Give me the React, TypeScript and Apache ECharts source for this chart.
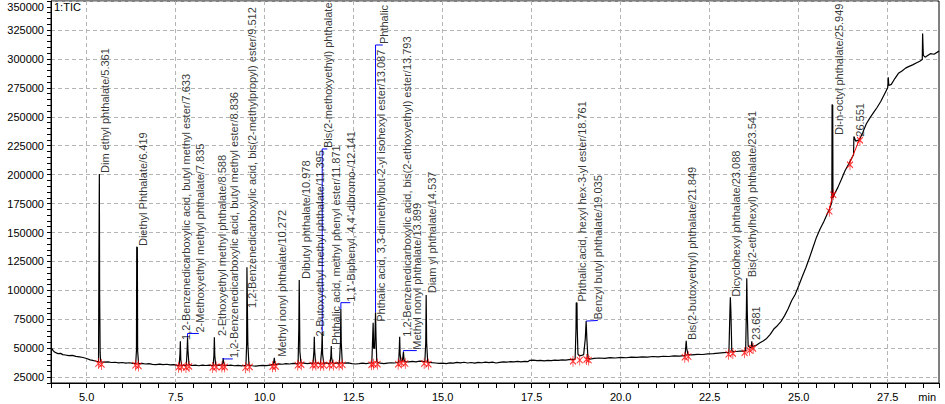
import React, { useEffect, useRef } from "react";
import * as echarts from "echarts";

// Total ion chromatogram: [retention time (min), intensity]
const trace: [number, number][] = [
  [4.0, 50500], [4.03, 49500], [4.06, 48000], [4.1, 46800], [4.15, 46000], [4.2, 45300], [4.27, 45600], [4.33, 44500],
  [4.4, 44200], [4.5, 43600], [4.6, 43900], [4.7, 43000], [4.8, 42600], [4.9, 42000], [5.0, 41200], [5.1, 40000],
  [5.2, 39300], [5.28, 38800],
  [5.335, 38500], [5.345, 121000], [5.352, 121000], [5.358, 200500], [5.366, 97000], [5.373, 97000], [5.38, 46000], [5.395, 38200],
  [5.5, 38000], [5.6, 38300], [5.7, 37700], [5.8, 37900], [5.9, 37400], [6.0, 37700], [6.1, 37200], [6.2, 37500], [6.3, 37000],
  [6.38, 37000], [6.4, 48000], [6.408, 137600], [6.425, 137000], [6.433, 48000], [6.46, 36600],
  [6.55, 36900], [6.65, 36400], [6.75, 36700], [6.85, 36100], [6.95, 35900], [7.05, 36300], [7.15, 35800], [7.25, 36200],
  [7.35, 35600], [7.45, 35900], [7.55, 35300],
  [7.6, 35500], [7.622, 45000], [7.633, 56000], [7.645, 40000], [7.67, 35500],
  [7.75, 35200], [7.8, 35400], [7.823, 48000], [7.835, 59000], [7.847, 48000], [7.875, 36000],
  [7.95, 35100], [8.05, 35400], [8.15, 34900], [8.25, 35500], [8.35, 35100], [8.45, 35400], [8.53, 35100],
  [8.555, 35200], [8.576, 44000], [8.588, 59500], [8.6, 44000], [8.625, 35600],
  [8.7, 35300], [8.8, 35600], [8.826, 38000], [8.836, 41500], [8.846, 38000], [8.875, 35500],
  [8.95, 35100], [9.05, 35400], [9.15, 34900], [9.25, 35200], [9.35, 34800], [9.45, 35100],
  [9.475, 35100], [9.495, 54000], [9.503, 120000], [9.52, 120000], [9.528, 54000], [9.56, 35400],
  [9.65, 34900], [9.75, 34600], [9.85, 35000], [9.95, 35300], [10.05, 35000], [10.15, 35500], [10.22, 35800],
  [10.245, 36000], [10.265, 40000], [10.272, 41700], [10.285, 38000], [10.31, 36100],
  [10.4, 36500], [10.5, 36200], [10.6, 36700], [10.7, 36400], [10.8, 36900], [10.9, 36700],
  [10.94, 37000], [10.96, 67000], [10.972, 109000], [10.984, 67000], [10.99, 47000], [11.02, 37500],
  [11.1, 37200], [11.2, 36800], [11.3, 37100],
  [11.36, 37000], [11.385, 48000], [11.395, 60000], [11.405, 48000], [11.43, 37500],
  [11.5, 37000], [11.57, 37200], [11.605, 50000], [11.617, 64000], [11.628, 45000], [11.66, 37000],
  [11.72, 37400], [11.8, 36900], [11.84, 37100], [11.862, 44000], [11.871, 52000], [11.882, 42000], [11.91, 37500],
  [11.98, 37000], [12.05, 37400], [12.1, 37000], [12.13, 55000], [12.141, 84000], [12.152, 55000], [12.18, 37500],
  [12.25, 37100], [12.35, 37400], [12.45, 36800], [12.55, 36400], [12.65, 36700], [12.75, 37100], [12.85, 36800], [12.95, 37300],
  [13.01, 37500], [13.035, 60000], [13.048, 72000], [13.062, 50000], [13.09, 50000], [13.115, 81000], [13.128, 60000],
  [13.15, 38500], [13.18, 37800],
  [13.25, 37100], [13.35, 36800], [13.45, 37200], [13.55, 37500], [13.65, 37300], [13.74, 37900],
  [13.765, 38000], [13.782, 50000], [13.793, 60000], [13.805, 45000], [13.83, 39000], [13.87, 39000], [13.888, 44000],
  [13.899, 47000], [13.915, 40000], [13.945, 38500],
  [14.05, 38200], [14.15, 38600], [14.25, 38300], [14.35, 38900], [14.45, 38600],
  [14.5, 38500], [14.525, 55000], [14.537, 96000], [14.55, 55000], [14.58, 38000],
  [14.7, 37600], [14.8, 37300], [14.9, 37000], [15.0, 37200], [15.1, 36800], [15.2, 37400], [15.3, 37100], [15.4, 37800],
  [15.5, 37400], [15.6, 37900], [15.7, 37300], [15.8, 37700], [15.9, 37200], [16.0, 37800], [16.1, 37500], [16.2, 38100],
  [16.3, 37600], [16.4, 38000], [16.5, 37300], [16.6, 37800], [16.7, 38300], [16.8, 38000], [16.9, 38400], [17.0, 38200],
  [17.1, 38600], [17.2, 38300], [17.3, 38700], [17.4, 38500], [17.45, 39600], [17.55, 39800], [17.65, 39300], [17.75, 39600],
  [17.85, 39100], [17.95, 39500], [18.05, 39300], [18.15, 39800], [18.25, 39600], [18.35, 40000], [18.45, 39700],
  [18.55, 40200], [18.65, 40400],
  [18.72, 40500], [18.745, 67000], [18.752, 89300], [18.772, 89000], [18.78, 67000], [18.8, 45000], [18.84, 43500],
  [18.9, 43800], [18.96, 44500], [19.005, 58000], [19.03, 73500], [19.05, 58000], [19.08, 42000], [19.13, 40500],
  [19.25, 41200], [19.4, 41600], [19.55, 41300], [19.7, 41900], [19.85, 41600], [20.0, 42100], [20.15, 41800],
  [20.3, 42400], [20.45, 42100], [20.6, 42600], [20.75, 42300], [20.9, 42900], [21.05, 42600], [21.2, 43100],
  [21.35, 42900], [21.5, 43500], [21.65, 43300], [21.78, 43700],
  [21.81, 44000], [21.84, 56500], [21.855, 50000], [21.89, 44500],
  [22.0, 44300], [22.15, 44800], [22.3, 44600], [22.45, 45200], [22.6, 45400], [22.75, 45800], [22.9, 46200], [23.0, 46400],
  [23.04, 46500], [23.068, 82000], [23.08, 94000], [23.095, 82000], [23.12, 48000], [23.17, 47000],
  [23.25, 47200], [23.35, 47600], [23.45, 47500],
  [23.51, 48000], [23.53, 82000], [23.541, 110500], [23.555, 82000], [23.58, 52000], [23.64, 50500],
  [23.67, 51000], [23.681, 56000], [23.7, 51500],
  [23.8, 52500], [23.9, 54500], [24.0, 56300], [24.1, 58500], [24.2, 62000], [24.3, 66600], [24.4, 69500], [24.5, 73000],
  [24.6, 78000], [24.7, 84000], [24.8, 91000], [24.9, 96500], [25.0, 104000], [25.1, 112000], [25.2, 119500], [25.3, 128000],
  [25.4, 137000], [25.5, 146000], [25.6, 153000], [25.7, 159000], [25.8, 166000], [25.88, 171500],
  [25.93, 176000], [25.937, 260500], [25.955, 260000], [25.962, 180000],
  [26.0, 183000], [26.1, 189000], [26.2, 196000], [26.3, 203400], [26.4, 209000], [26.5, 215000], [26.54, 217000],
  [26.55, 233000], [26.6, 229000], [26.7, 230000], [26.8, 236500], [26.9, 244000], [27.0, 249000], [27.1, 253500],
  [27.2, 258000], [27.3, 263000], [27.4, 269000], [27.5, 275000], [27.515, 284000], [27.53, 277000], [27.6, 278000],
  [27.7, 283000], [27.8, 287500], [27.9, 289500], [28.0, 292000], [28.1, 293500], [28.2, 294800], [28.3, 296500],
  [28.4, 298000], [28.47, 299500], [28.48, 322000], [28.5, 303000], [28.55, 301500], [28.6, 302500], [28.7, 304500],
  [28.8, 304000], [28.94, 306700],
];

// Peak annotations
const labelTexts = [
  "Dim ethyl phthalate/5.361",
  "Diethyl Phthalate/6.419",
  "1,2-Benzenedicarboxylic acid, butyl methyl ester/7.633",
  "2-Methoxyethyl methyl phthalate/7.835",
  "2-Ethoxyethyl methyl phthalate/8.588",
  "1,2-Benzenedicarboxylic acid, butyl methyl ester/8.836",
  "1,2-Benzenedicarboxylic acid, bis(2-methylpropyl) ester/9.512",
  "Methyl nonyl phthalate/10.272",
  "Dibutyl phthalate/10.978",
  "2-Butoxyethyl methyl phthalate/11.395",
  "Bis(2-methoxyethyl) phthalate",
  "Phthalic acid, methyl phenyl ester/11.871",
  "1,1'-Biphenyl, 4,4'-dibromo-/12.141",
  "Phthalic acid, 3,3-dimethylbut-2-yl isohexyl ester/13.087",
  "Phthalic",
  "1,2-Benzenedicarboxylic acid, bis(2-ethoxyethyl) ester/13.793",
  "Methyl nonyl phthalate/13.899",
  "Diam yl phthalate/14.537",
  "Phthalic acid, hexyl hex-3-yl ester/18.761",
  "Benzyl butyl phthalate/19.035",
  "Bis(2-butoxyethyl) phthalate/21.849",
  "Dicyclohexyl phthalate/23.088",
  "Bis(2-ethylhexyl) phthalate/23.541",
  "23.681",
  "Di-n-octyl phthalate/25.949",
  "26.551",
];
const labelTimes = [
  5.51, 6.584, 7.778, 8.171, 8.789, 9.126, 9.659, 10.488, 11.148, 11.547, 11.78, 12.005, 12.426, 13.268, 13.339,
  14.012, 14.293, 14.714, 18.913, 19.376, 22.016, 23.232, 23.701, 23.808, 26.131, 26.721,
];
const labelValues = [
  201500, 138300, 57200, 63600, 60600, 41600, 84800, 42700, 109800, 60200, 223000, 52800, 90200, 72900, 312800,
  60000, 48800, 97500, 90200, 74800, 57200, 94500, 111300, 57200, 234200, 232800,
];

// Blue leader lines: peak apex -> label
const leaderPeakTimes = [7.835, 8.836, 11.617, 12.141, 13.115, 13.899, 19.03];
const leaderPeakValues = [59000, 41500, 64000, 84000, 81000, 47000, 73500];
const leaderLabelIndex = [3, 5, 10, 12, 14, 16, 19];

// Integration markers (peak start / end)
const markers: [number, number][] = [
  [5.33, 38500], [5.42, 37800], [6.37, 37000], [6.46, 36500], [7.58, 35300], [7.67, 35500], [7.79, 35200], [7.88, 36000],
  [8.54, 35200], [8.64, 35500], [8.8, 35500], [8.88, 35500], [9.46, 35000], [9.58, 35500], [10.22, 35800], [10.31, 36000],
  [10.93, 37000], [11.03, 37500], [11.35, 37000], [11.44, 37300], [11.57, 37000], [11.66, 37000], [11.82, 37000],
  [11.93, 37300], [12.09, 37000], [12.19, 37400], [13.0, 37500], [13.06, 38000], [13.17, 38000], [13.75, 38000],
  [13.84, 39000], [13.95, 38500], [14.48, 38500], [14.6, 38000], [18.66, 40500], [18.85, 41500], [19.04, 42000],
  [19.1, 41500], [21.8, 44000], [21.9, 44500], [23.03, 46500], [23.15, 47200], [23.48, 47800], [23.62, 50000],
  [23.72, 51500], [25.86, 170000], [25.97, 184400], [26.44, 210300], [26.72, 231400],
];
// Red drawn baselines under peaks on the rising background
const redBaselines: [number, number][][] = [
  [[25.86, 170000], [25.97, 184400]],
  [[26.44, 210300], [26.72, 231400]],
];

const xTickLabels = [5, 7.5, 10, 12.5, 15, 17.5, 20, 22.5, 25, 27.5];
const yTickLabels = [25000, 50000, 75000, 100000, 125000, 150000, 175000, 200000, 225000, 250000, 275000, 300000, 325000, 350000];

const FONT = "'Liberation Sans', Arial, sans-serif";
const GRID_GRAY = "#b4b4b4";

export default function App() {
  const ref = useRef<HTMLDivElement>(null);
  useEffect(() => {
    if (!ref.current) return;
    const chart = echarts.init(ref.current, null, { renderer: "svg" });

    const leaderSeries = leaderPeakTimes.map((t, i) => {
      const li = leaderLabelIndex[i];
      const lv = labelValues[li] - 800;
      return {
        type: "line",
        data: [
          [t, leaderPeakValues[i]],
          [t, lv],
          [labelTimes[li] - 0.02, lv],
        ],
        symbol: "none",
        silent: true,
        lineStyle: { color: "#0000ff", width: 1 },
        z: 3,
      };
    });

    const redSeries = redBaselines.map((seg) => ({
      type: "line",
      data: seg,
      symbol: "none",
      silent: true,
      lineStyle: { color: "#ff0000", width: 1 },
      z: 4,
    }));

    const option: any = {
      animation: false,
      textStyle: { fontFamily: FONT },
      grid: {
        left: 51,
        right: 6,
        top: 1,
        bottom: 21,
        show: true,
        borderColor: "#000",
        borderWidth: 1,
        backgroundColor: "transparent",
        outerBoundsMode: "none",
      },
      xAxis: {
        type: "value",
        min: 4,
        max: 28.94,
        interval: 0.5,
        axisLine: { show: true, onZero: false, lineStyle: { color: "#000", width: 1 } },
        axisTick: { show: true, length: 5, lineStyle: { color: "#000" } },
        axisLabel: {
          color: "#000",
          fontSize: 11,
          fontFamily: FONT,
          margin: 8,
          formatter: (v: number) =>
            xTickLabels.some((x) => Math.abs(x - v) < 1e-6) ? v.toFixed(1) : "",
        },
        splitLine: {
          show: true,
          lineStyle: {
            color: ["transparent", "transparent", GRID_GRAY, "transparent", "transparent"],
            type: [4, 3],
            width: 1,
          },
        },
      },
      yAxis: {
        type: "value",
        min: 20000,
        max: 350000,
        interval: 5000,
        axisLine: { show: true, lineStyle: { color: "#000", width: 1 } },
        axisTick: { show: true, length: 4, lineStyle: { color: "#000" } },
        axisLabel: {
          color: "#000",
          fontSize: 11,
          fontFamily: FONT,
          margin: 7,
          verticalAlignMaxLabel: "top",
          formatter: (v: number) =>
            yTickLabels.some((y) => Math.abs(y - v) < 1e-6) ? String(v) : "",
        },
        splitLine: {
          show: true,
          lineStyle: {
            color: ["transparent", GRID_GRAY, "transparent", "transparent", "transparent"],
            type: [4, 3],
            width: 1,
          },
        },
      },
      graphic: [
        {
          type: "text",
          left: 54,
          top: 1,
          style: { text: "1:TIC", font: `11px ${FONT}`, fill: "#000" },
        },
        {
          type: "text",
          right: 9,
          bottom: 2,
          style: { text: "min", font: `11px ${FONT}`, fill: "#000" },
        },
      ],
      series: [
        {
          type: "line",
          data: trace,
          symbol: "none",
          silent: true,
          lineStyle: { color: "#000", width: 1.2 },
          z: 2,
        },
        ...redSeries,
        ...leaderSeries,
        {
          type: "scatter",
          data: markers,
          symbol: "path://M5 0 L5 14 M1 3 L9 11 M9 3 L1 11",
          symbolSize: [6, 11],
          symbolOffset: [0, 2],
          silent: true,
          itemStyle: { color: "transparent", borderColor: "#ff0000", borderWidth: 1 },
          z: 5,
        },
        {
          type: "scatter",
          data: labelTexts.map((s, i) => ({ value: [labelTimes[i], labelValues[i]], name: s })),
          symbolSize: 1,
          silent: true,
          itemStyle: { color: "transparent" },
          label: {
            show: true,
            formatter: "{b}",
            rotate: 90,
            position: "inside",
            align: "left",
            verticalAlign: "middle",
            color: "#000",
            fontSize: 11,
            fontFamily: FONT,
          },
          z: 6,
        },
      ],
    };
    chart.setOption(option);
    return () => chart.dispose();
  }, []);

  return (
    <div
      ref={ref}
      style={{ position: "absolute", left: 0, top: 0, width: 945, height: 404, background: "#fff" }}
    />
  );
}
